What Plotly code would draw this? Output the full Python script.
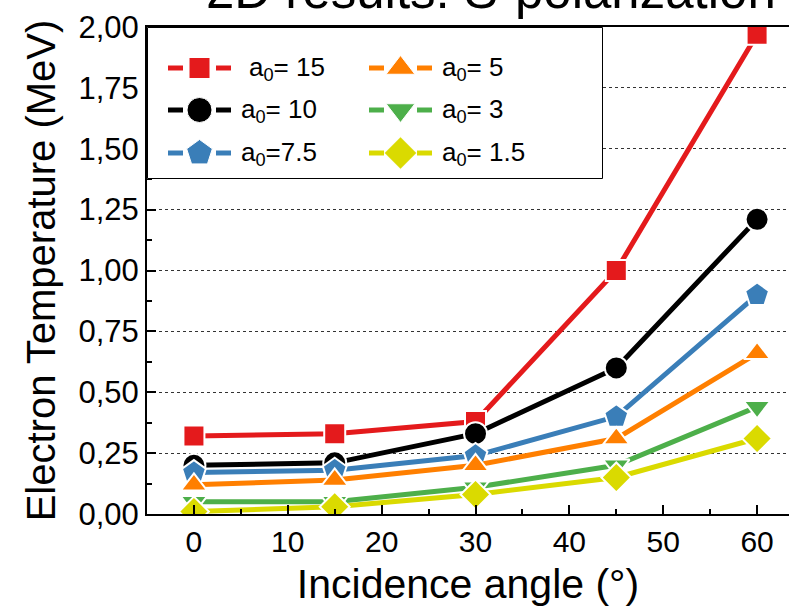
import plotly.graph_objects as go

# Incidence angles (degrees) and electron temperatures (MeV) per laser amplitude a0
angles = [0, 15, 30, 45, 60]
t_a15 = [0.32, 0.33, 0.38, 1.00, 1.97]
t_a10 = [0.20, 0.21, 0.33, 0.60, 1.21]
t_a75 = [0.17, 0.18, 0.24, 0.40, 0.90]
t_a5 = [0.12, 0.14, 0.20, 0.31, 0.66]
t_a3 = [0.05, 0.05, 0.11, 0.20, 0.44]
t_a15b = [0.01, 0.03, 0.08, 0.15, 0.31]

y_tickvals = [0, 0.25, 0.5, 0.75, 1.0, 1.25, 1.5, 1.75, 2.0]
y_ticktext = ["0,00", "0,25", "0,50", "0,75", "1,00", "1,25", "1,50", "1,75", "2,00"]
x_tickvals = [0, 10, 20, 30, 40, 50, 60]

# label, values, colour, symbol, marker size, key column, key row
series = [
    ("a<sub>0</sub>= 15", t_a15, "#E41A1C", "square", 21, 0, 0),
    ("a<sub>0</sub>= 10", t_a10, "#000000", "circle", 23, 0, 1),
    ("a<sub>0</sub>=7.5", t_a75, "#3A7EB8", "pentagon", 25, 0, 2),
    ("a<sub>0</sub>= 5", t_a5, "#FF7F00", "triangle-up", 23, 1, 0),
    ("a<sub>0</sub>= 3", t_a3, "#4DAF4A", "triangle-down", 23, 1, 1),
    ("a<sub>0</sub>= 1.5", t_a15b, "#DADA00", "diamond", 23, 1, 2),
]

FONT = "Arial, Liberation Sans, sans-serif"
W, H = 789, 607
ML, MT, MB = 147, 27, 93
PW, PH = W - ML, H - MT - MB

# key box geometry, in its own pixel-like units (x: 0..456, y: 0..152 upwards)
KEY_W, KEY_H = 456, 152
key_col_x = [21, 222]        # left end of each sample line
key_row_y = [111, 69, 26]    # row centres
key_text_x = [92, 293]       # where the labels start

fig = go.Figure()

# data curves
for name, vals, color, symbol, size, col, row in series:
    fig.add_trace(go.Scatter(
        x=angles, y=vals, name=name, mode="lines+markers", showlegend=False,
        line=dict(color=color, width=5),
        marker=dict(symbol=symbol, size=size, color=color,
                    line=dict(color="white", width=2)),
        xaxis="x", yaxis="y",
    ))

# key: white box with thin frame
fig.add_trace(go.Scatter(
    x=[0.5, KEY_W - 0.5, KEY_W - 0.5, 0.5, 0.5], y=[0.5, 0.5, KEY_H - 0.5, KEY_H - 0.5, 0.5],
    mode="lines", fill="toself", fillcolor="white",
    line=dict(color="black", width=1), showlegend=False, hoverinfo="skip",
    xaxis="x2", yaxis="y2",
))

annotations = []
for name, vals, color, symbol, size, col, row in series:
    x0 = key_col_x[col]
    yc = key_row_y[row]
    # dash - marker - dash sample
    fig.add_trace(go.Scatter(
        x=[x0, x0 + 15, None, x0 + 48, x0 + 63], y=[yc, yc, None, yc, yc],
        mode="lines", line=dict(color=color, width=5),
        showlegend=False, hoverinfo="skip", xaxis="x2", yaxis="y2",
    ))
    fig.add_trace(go.Scatter(
        x=[x0 + 31.5], y=[yc], mode="markers",
        marker=dict(symbol=symbol, size=size + (2 if symbol != "square" else 0), color=color,
                    line=dict(color="white", width=1)),
        showlegend=False, hoverinfo="skip", xaxis="x2", yaxis="y2",
    ))
    tx = key_text_x[col] + (8 if (col == 0 and row == 0) else 0)
    annotations.append(dict(
        text=name, xref="x2", yref="y2", x=tx, y=yc, xanchor="left", yanchor="middle",
        showarrow=False, font=dict(size=26, family=FONT, color="black"),
    ))

annotations.append(dict(
    text="2D results: S-polarization", xref="paper", yref="paper",
    x=(491 - ML) / PW, y=1, xanchor="center", yanchor="bottom",
    yshift=6, showarrow=False, font=dict(size=51, family=FONT, color="black"),
))

fig.update_layout(
    width=W, height=H,
    margin=dict(l=ML, r=0, t=MT, b=MB, pad=0),
    plot_bgcolor="white", paper_bgcolor="white",
    font=dict(family=FONT, color="black"),
    showlegend=False,
    xaxis=dict(
        range=[-5, 63.4], tickvals=x_tickvals,
        ticks="inside", ticklen=9, tickwidth=2, tickcolor="black",
        minor=dict(dtick=5, tick0=0, ticks="inside", ticklen=5, tickwidth=2, tickcolor="black"),
        showline=True, linewidth=2, linecolor="black", mirror=True,
        showgrid=False, zeroline=False,
        tickfont=dict(size=30, family=FONT),
        title=dict(text="Incidence angle (°)", font=dict(size=41, family=FONT), standoff=15),
    ),
    yaxis=dict(
        range=[0, 2.0], tickvals=y_tickvals, ticktext=y_ticktext,
        ticks="inside", ticklen=9, tickwidth=2, tickcolor="black",
        minor=dict(dtick=0.125, tick0=0, ticks="inside", ticklen=5, tickwidth=2, tickcolor="black",
                   showgrid=False),
        showline=True, linewidth=2, linecolor="black", mirror=False,
        showgrid=True, gridcolor="#333333", gridwidth=1, griddash="3px,3px",
        zeroline=False,
        tickfont=dict(size=31, family=FONT),
        title=dict(text="Electron Temperature (MeV)", font=dict(size=40, family=FONT), standoff=10),
    ),
    xaxis2=dict(domain=[0, KEY_W / PW], range=[0, KEY_W], anchor="y2", visible=False,
                fixedrange=True),
    yaxis2=dict(domain=[1 - KEY_H / PH, 1], range=[0, KEY_H], anchor="x2", visible=False,
                fixedrange=True),
    annotations=annotations,
)

fig.write_html("out.html")
